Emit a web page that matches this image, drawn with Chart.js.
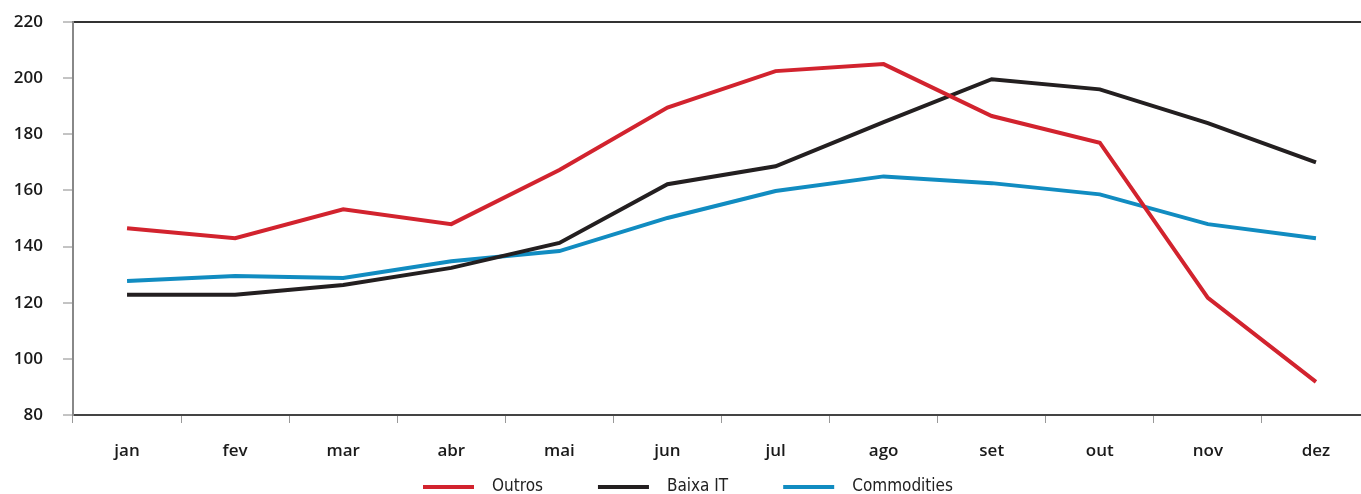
<!DOCTYPE html>
<html>
<head>
<meta charset="utf-8">
<script src="https://cdn.jsdelivr.net/npm/chart.js@4.4.1/dist/chart.umd.min.js"></script>
<style>
    html, body { margin: 0; padding: 0; background: #fff; overflow: hidden; }
    #wrap { width: 1361px; height: 494px; overflow: hidden; position: relative; }
</style>
</head>
<body>
<div id="wrap"><canvas id="chart" width="1370" height="494"></canvas></div>
<script>
const meses = ['jan', 'fev', 'mar', 'abr', 'mai', 'jun', 'jul', 'ago', 'set', 'out', 'nov', 'dez'];
const outros = [146.5, 143, 153.3, 148, 167.3, 189.5, 202.5, 205, 186.5, 177, 121.7, 91.8];
const baixaIT = [122.8, 122.8, 126.3, 132.4, 141.3, 162.2, 168.6, 184.3, 199.6, 196, 184, 170];
const commodities = [127.7, 129.5, 128.8, 134.8, 138.4, 150.2, 159.8, 165, 162.6, 158.6, 148, 143];
const yTicks = [80, 100, 120, 140, 160, 180, 200, 220];

const series = [
    { label: 'Outros', data: outros, color: '#d2232e' },
    { label: 'Baixa IT', data: baixaIT, color: '#231f20' },
    { label: 'Commodities', data: commodities, color: '#118cc1' }
];

// legende dessinee a la main pour caler les ecarts
const legendePlugin = {
    id: 'legende',
    afterDraw(chart) {
        const ctx = chart.ctx;
        let x = 423;
        const y = 487;
        ctx.save();
        ctx.font = '17px "DejaVu Sans Condensed", "DejaVu Sans"';
        ctx.textBaseline = 'middle';
        chart.data.datasets.forEach(ds => {
            ctx.strokeStyle = ds.borderColor;
            ctx.lineWidth = 4;
            ctx.beginPath();
            ctx.moveTo(x, y);
            ctx.lineTo(x + 51, y);
            ctx.stroke();
            x += 51 + 18;
            ctx.fillStyle = '#222';
            ctx.fillText(ds.label, x, y);
            x += ctx.measureText(ds.label).width + 55;
        });
        ctx.restore();
    }
};

const ctx = document.getElementById('chart').getContext('2d');
new Chart(ctx, {
    type: 'line',
    data: {
        labels: meses,
        datasets: series.map(s => ({
            label: s.label,
            data: s.data,
            borderColor: s.color,
            backgroundColor: s.color,
            borderWidth: 4,
            pointRadius: 0,
            tension: 0,
            fill: false
        }))
    },
    options: {
        responsive: false,
        animation: false,
        layout: { padding: { top: 22, left: 0, right: 0, bottom: 0 } },
        plugins: {
            legend: { display: false },
            tooltip: { enabled: false }
        },
        scales: {
            x: {
                offset: true,
                grid: {
                    offset: true,
                    drawOnChartArea: false,
                    tickLength: 8,
                    tickColor: '#999',
                    tickWidth: 1
                },
                border: { color: '#444', width: 2 },
                ticks: {
                    color: '#1a1a1a',
                    padding: 18,
                    font: { family: '"Open Sans"', size: 17, weight: '600' }
                },
                afterFit: scale => { scale.height = 79; }
            },
            y: {
                min: 80,
                max: 220,
                afterBuildTicks: scale => { scale.ticks = yTicks.map(v => ({ value: v })); },
                grid: {
                    color: c => (c.tick && c.tick.value === 220) ? '#333' : 'transparent',
                    lineWidth: 2,
                    tickLength: 10,
                    tickColor: '#888',
                    tickWidth: 1
                },
                border: { color: '#888', width: 2 },
                ticks: {
                    color: '#1a1a1a',
                    padding: 20,
                    font: { family: '"Open Sans"', size: 17, weight: '600' }
                },
                afterFit: scale => {
                    scale.width = 73;
                    scale.paddingTop = 0;
                    scale.paddingBottom = 0;
                }
            }
        }
    },
    plugins: [legendePlugin]
});
</script>
</body>
</html>
